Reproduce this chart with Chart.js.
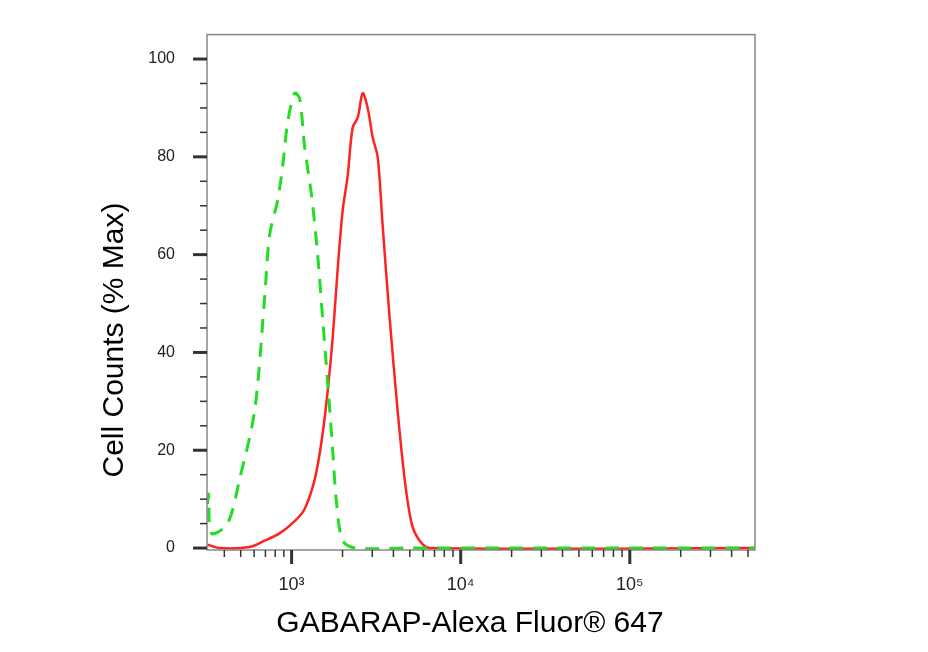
<!DOCTYPE html>
<html><head><meta charset="utf-8">
<script src="https://cdn.jsdelivr.net/npm/chart.js@4"></script>
<style>html,body{margin:0;padding:0;background:#fff}#c{display:block}</style>
</head><body>
<canvas id="c" width="928" height="652" style="width:928px;height:652px"></canvas>
<script>
const isotypeX = [318,323,336,418,492,604,692,741,826,885,947,1042,1115,1194,1313,1426,1525,1633,1750,1846,2004,2360,5000,20000,100000,550000];
const isotypeY = [9,11,3,5,14,28,51,64,71,78,87,93,92,82,72,60,47,34,20,9,1.5,0,0,0,0,0];
const antibodyX = [318,375,564,692,849,1042,1194,1369,1506,1633,1750,1872,2004,2144,2296,2460,2632,2818,3015,3228,3454,3800,4239,4665,5131,5718,6564,550000];
const antibodyY = [0.7,0,0.2,1.5,3,5.5,8,14,22,32,43,57,69,76,86,88,93,90,84,80,66,47,28,14,5,1.5,0,0];
const xTickLabels = {1000:'10³',10000:'10⁴',100000:'10⁵'};
const yLabelTicks = [0,20,40,60,80,100];
const xTitle = 'GABARAP-Alexa Fluor® 647';
const yTitle = 'Cell Counts (% Max)';

const toPts=(xs,ys)=>xs.map((x,i)=>({x,y:ys[i]}));
const deco={id:'deco',afterDraw(ch){
  const c=ch.ctx,a=ch.chartArea,xs=ch.scales.x,ys=ch.scales.y;
  c.save();
  c.strokeStyle='#888';c.lineWidth=1.5;
  c.strokeRect(a.left,a.top+1,a.right-a.left,a.bottom-a.top-1);
  c.strokeStyle='#333';
  for(let d=100;d<=1e6;d*=10){for(let m=1;m<10;m++){const v=d*m;if(v<xs.min||v>xs.max)continue;
    const p=xs.getPixelForValue(v);const maj=m===1;
    c.lineWidth=maj?3:1.5;c.beginPath();c.moveTo(p,a.bottom);c.lineTo(p,a.bottom+(maj?14:7));c.stroke();}}
  for(let v=0;v<=100;v+=5){const p=ys.getPixelForValue(v);const maj=v%20===0;
    c.lineWidth=maj?3:1.5;c.beginPath();c.moveTo(a.left,p);c.lineTo(a.left-(maj?14:7),p);c.stroke();}
  c.fillStyle='#000';c.font='30px Arial, "Liberation Sans"';c.textAlign='center';c.textBaseline='middle';
  c.fillText(xTitle,470,624);
  c.translate(115,340);c.rotate(-Math.PI/2);c.fillText(yTitle,0,0);
  c.restore();
}};
new Chart(document.getElementById('c'),{
  type:'line',
  data:{datasets:[
    {data:toPts(isotypeX,isotypeY),borderColor:'#22dd22',borderWidth:3,borderDash:[14,10],pointRadius:0,tension:0.3,fill:false},
    {data:toPts(antibodyX,antibodyY),borderColor:'#ff2222',borderWidth:2.5,pointRadius:0,tension:0.3,fill:false}
  ]},
  plugins:[deco],
  options:{responsive:false,maintainAspectRatio:false,animation:false,devicePixelRatio:1,
    layout:{padding:{left:0,right:173,top:0,bottom:0}},
    plugins:{legend:{display:false},tooltip:{enabled:false}},
    scales:{
      x:{type:'logarithmic',min:316,max:550000,grid:{display:false},border:{display:false},
        afterBuildTicks(s){s.ticks=Object.keys(xTickLabels).map(v=>({value:+v}));},
        afterFit(s){s.height=102;},
        ticks:{autoSkip:false,maxRotation:0,padding:16,color:'#222',font:{size:18,family:'Arial'},callback:v=>xTickLabels[v]||''}},
      y:{min:-0.4,max:105.2,grid:{display:false},border:{display:false},
        afterBuildTicks(s){s.ticks=yLabelTicks.map(v=>({value:v}));},
        afterFit(s){s.width=207;},
        ticks:{padding:24,color:'#222',font:{size:16,family:'Arial'}}}
    }}
});
</script></body></html>
